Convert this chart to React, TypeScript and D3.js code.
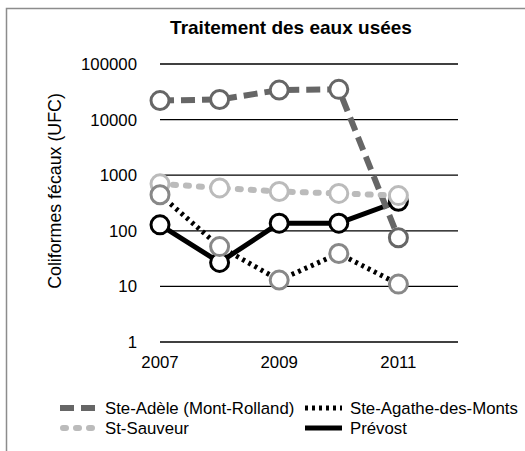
import React, { useEffect, useRef } from "react";
import * as d3 from "d3";

const years = [2007, 2008, 2009, 2010, 2011];
const steAdele = [22000, 23000, 34000, 35000, 75];
const steAgathe = [445, 52, 13, 39, 11];
const stSauveur = [700, 590, 510, 470, 430];
const prevost = [128, 27, 137, 137, 340];
const yTicks = [1, 10, 100, 1000, 10000, 100000];
const xTicks = [2007, 2009, 2011];

// drawing order taken from the overlaps in the picture
const series = [
  { name: "Prévost", values: prevost, line: "#000", marker: "#000", width: 5, dash: null, cap: "butt" },
  { name: "Ste-Adèle (Mont-Rolland)", values: steAdele, line: "#666", marker: "#666", width: 6, dash: "14,7", cap: "butt" },
  { name: "St-Sauveur", values: stSauveur, line: "#bbb", marker: "#bbb", width: 6, dash: "3,10", cap: "round" },
  { name: "Ste-Agathe-des-Monts", values: steAgathe, line: "#000", marker: "#888", width: 5, dash: "3,4", cap: "butt" },
];

const legendRows = [
  { name: "Ste-Adèle (Mont-Rolland)", col: 0, row: 0 },
  { name: "Ste-Agathe-des-Monts", col: 1, row: 0 },
  { name: "St-Sauveur", col: 0, row: 1 },
  { name: "Prévost", col: 1, row: 1 },
];

function App() {
  const ref = useRef<SVGSVGElement>(null);

  useEffect(() => {
    const svg = d3.select(ref.current);
    svg.selectAll("*").remove();

    const font = "'Liberation Sans', Arial, sans-serif";

    // frame (only left and top edges are inside the picture)
    svg.append("path")
      .attr("d", "M6.5,451 L6.5,8.5 L525,8.5")
      .attr("fill", "none").attr("stroke", "#8c8c8c").attr("stroke-width", 1.5);

    svg.append("text")
      .attr("x", 291).attr("y", 34)
      .attr("text-anchor", "middle")
      .attr("font-family", font).attr("font-weight", "bold").attr("font-size", 19)
      .text("Traitement des eaux usées");

    const x = d3.scaleLinear().domain([2007, 2012]).range([160, 458]);
    const y = d3.scaleLog().domain([1, 100000]).range([342, 64]);

    // grid
    svg.append("g").selectAll("line")
      .data(yTicks).join("line")
      .attr("x1", x(2007)).attr("x2", x(2012))
      .attr("y1", d => y(d)).attr("y2", d => y(d))
      .attr("stroke", "#000").attr("stroke-width", 1.3);

    svg.append("g").selectAll("text")
      .data(yTicks).join("text")
      .attr("x", 137).attr("y", d => y(d) + 6)
      .attr("text-anchor", "end")
      .attr("font-family", font).attr("font-size", 16.8)
      .text(d => String(d));

    svg.append("g").selectAll("text")
      .data(xTicks).join("text")
      .attr("x", d => x(d)).attr("y", 368)
      .attr("text-anchor", "middle")
      .attr("font-family", font).attr("font-size", 16.8)
      .text(d => String(d));

    svg.append("text")
      .attr("transform", "translate(61,191) rotate(-90)")
      .attr("text-anchor", "middle")
      .attr("font-family", font).attr("font-size", 17.8)
      .text("Coliformes fécaux (UFC)");

    const line = d3.line<number>()
      .x((d, i) => x(years[i]))
      .y(d => y(d));

    series.forEach(s => {
      const g = svg.append("g");
      g.append("path")
        .datum(s.values)
        .attr("fill", "none")
        .attr("stroke", s.line)
        .attr("stroke-width", s.width)
        .attr("stroke-linecap", s.cap)
        .attr("stroke-linejoin", "round")
        .attr("stroke-dasharray", s.dash)
        .attr("d", line);
      g.selectAll("circle")
        .data(s.values).join("circle")
        .attr("cx", (d, i) => x(years[i]))
        .attr("cy", d => y(d))
        .attr("r", 9)
        .attr("fill", "white")
        .attr("stroke", s.marker)
        .attr("stroke-width", 3);
    });

    // legend
    const lg = svg.append("g");
    legendRows.forEach(l => {
      const s = series.find(d => d.name === l.name)!;
      const lx = l.col === 0 ? 60 : 305;
      const ly = 408 + l.row * 20;
      lg.append("line")
        .attr("x1", s.cap === "round" ? lx + 3 : lx).attr("x2", lx + 37)
        .attr("y1", ly).attr("y2", ly)
        .attr("stroke", s.line)
        .attr("stroke-width", s.width)
        .attr("stroke-linecap", s.cap)
        .attr("stroke-dasharray", s.dash);
      lg.append("text")
        .attr("x", lx + 45).attr("y", ly + 6)
        .attr("font-family", font).attr("font-size", 16.8)
        .text(l.name);
    });
  }, []);

  return <svg ref={ref} width={525} height={451} style={{ position: "absolute", left: 0, top: 0 }} />;
}

export default App;
